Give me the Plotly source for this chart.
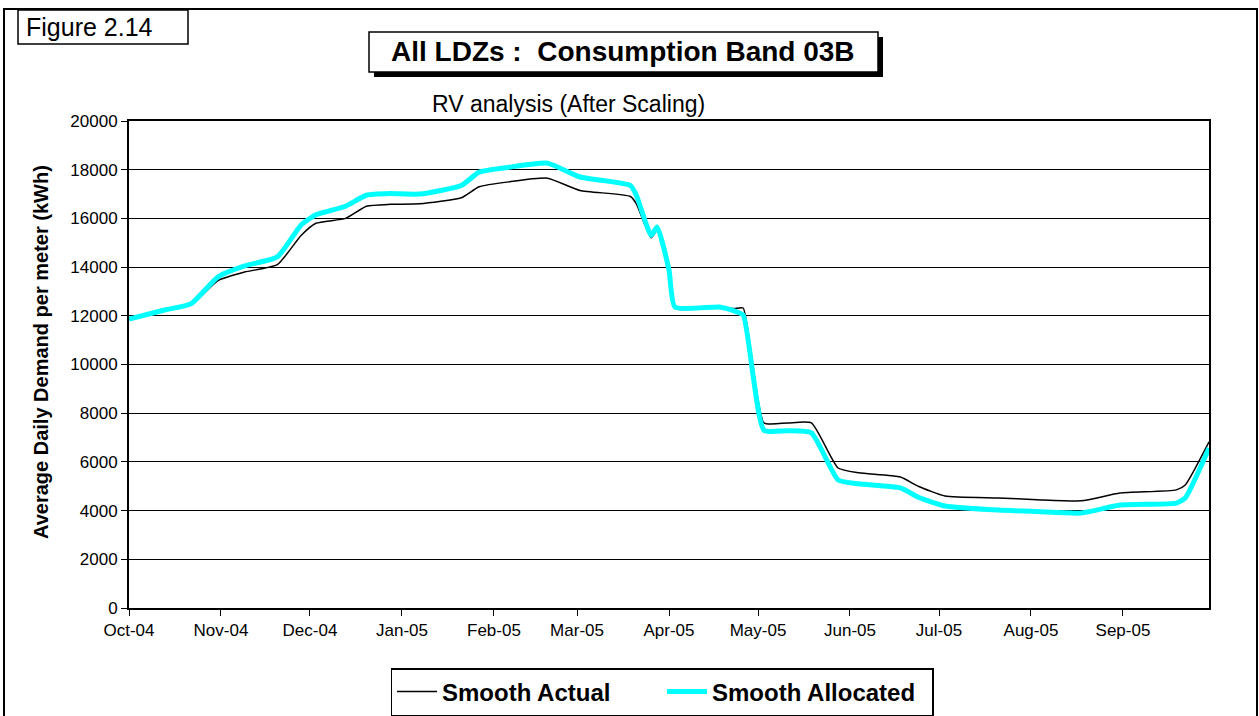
import plotly.graph_objects as go

# smoothed daily demand (kWh per meter)
dates = ['2004-10-01', '2004-10-13', '2004-10-22', '2004-10-31', '2004-11-09',
         '2004-11-20', '2004-11-28', '2004-12-03', '2004-12-13', '2004-12-20',
         '2004-12-28', '2005-01-07', '2005-01-21', '2005-01-27', '2005-02-06',
         '2005-02-19', '2005-03-02', '2005-03-19', '2005-03-21', '2005-03-26',
         '2005-03-28', '2005-04-01', '2005-04-03', '2005-04-18', '2005-04-23',
         '2005-04-26', '2005-05-03', '2005-05-11', '2005-05-19', '2005-05-28',
         '2005-06-04', '2005-06-18', '2005-06-24', '2005-07-03', '2005-07-21',
         '2005-08-03', '2005-08-18', '2005-08-31', '2005-09-19', '2005-09-22',
         '2005-09-30']
smooth_actual = [11850, 12200, 12450, 13450, 13800, 14100, 15300, 15800, 16000, 16500,
                 16580, 16600, 16850, 17300, 17500, 17650, 17150, 16900, 16600, 15200,
                 15500, 13900, 12300, 12350, 12300, 12320, 7600, 7600, 7600, 5750,
                 5550, 5380, 5000, 4600, 4520, 4450, 4400, 4720, 4850, 5050,
                 6820]
smooth_allocated = [11870, 12240, 12500, 13600, 14050, 14420, 15730, 16150, 16500, 16950,
                    17020, 17000, 17350, 17900, 18100, 18270, 17700, 17350, 16950, 15300,
                    15650, 13880, 12360, 12360, 12200, 12030, 7300, 7280, 7190, 5260,
                    5100, 4930, 4550, 4190, 4020, 3960, 3900, 4230, 4310, 4520,
                    6570]

month_ticks = ['2004-10-01', '2004-11-01', '2004-12-01', '2005-01-01', '2005-02-01',
               '2005-03-01', '2005-04-01', '2005-05-01', '2005-06-01', '2005-07-01',
               '2005-08-01', '2005-09-01']
month_labels = ['Oct-04', 'Nov-04', 'Dec-04', 'Jan-05', 'Feb-05', 'Mar-05',
                'Apr-05', 'May-05', 'Jun-05', 'Jul-05', 'Aug-05', 'Sep-05']

W, H = 1259, 716
L, R, T, B = 129, 1209, 121, 608
FONT = 'Arial, Liberation Sans, sans-serif'


def px(x):
    return (x - L) / (R - L)


def py(y):
    return (B - y) / (B - T)


fig = go.Figure()
fig.add_trace(go.Scatter(x=dates, y=smooth_actual, mode='lines', name='Smooth Actual',
                         line=dict(color='black', width=1.5, shape='spline', smoothing=0.5)))
fig.add_trace(go.Scatter(x=dates, y=smooth_allocated, mode='lines', name='Smooth Allocated',
                         line=dict(color='#00FFFF', width=5, shape='spline', smoothing=0.5)))

shapes = [
    # outer frame
    dict(type='rect', xref='paper', yref='paper', x0=px(4), x1=px(1257), y0=py(725), y1=py(9),
         line=dict(color='black', width=2)),
    # figure number box
    dict(type='rect', xref='paper', yref='paper', x0=px(18), x1=px(188), y0=py(44), y1=py(10),
         line=dict(color='black', width=1.5), fillcolor='white'),
    # title box shadow + box
    dict(type='rect', xref='paper', yref='paper', x0=px(374), x1=px(883), y0=py(77), y1=py(37),
         line=dict(width=0), fillcolor='black'),
    dict(type='rect', xref='paper', yref='paper', x0=px(369), x1=px(878), y0=py(72), y1=py(32),
         line=dict(color='black', width=1.5), fillcolor='white'),
]

annotations = [
    dict(text='Figure 2.14', xref='paper', yref='paper', x=px(24), y=py(27),
         xanchor='left', yanchor='middle', showarrow=False,
         font=dict(family=FONT, size=25, color='black')),
    dict(text='<b>All LDZs :  Consumption Band 03B</b>', xref='paper', yref='paper',
         x=px(623), y=py(52), xanchor='center', yanchor='middle', showarrow=False,
         font=dict(family=FONT, size=28, color='black')),
    dict(text='RV analysis (After Scaling)', xref='paper', yref='paper',
         x=px(568), y=py(104), xanchor='center', yanchor='middle', showarrow=False,
         font=dict(family=FONT, size=23, color='black')),
    dict(text='<b>Average Daily Demand per meter (kWh)</b>', xref='paper', yref='paper',
         x=px(41), y=py(352), xanchor='center', yanchor='middle', textangle=-90,
         showarrow=False, font=dict(family=FONT, size=20, color='black')),
]

fig.update_layout(
    width=W, height=H,
    margin=dict(l=L, r=W - R, t=T, b=H - B, autoexpand=False),
    paper_bgcolor='white', plot_bgcolor='white',
    font=dict(family=FONT, size=17, color='black'),
    shapes=shapes,
    annotations=annotations,
    showlegend=True,
    legend=dict(orientation='h', x=px(662), y=py(668), xanchor='center', yanchor='top',
                bordercolor='black', borderwidth=1.5, bgcolor='white',
                font=dict(family=FONT, size=24, color='black', weight='bold'),
                itemwidth=40, entrywidth=215, tracegroupgap=0),
)

fig.update_xaxes(
    type='date', range=['2004-10-01', '2005-09-30'],
    tickvals=month_ticks, ticktext=month_labels,
    ticks='outside', ticklen=6, tickcolor='black', tickwidth=1,
    showline=True, linecolor='black', linewidth=2, mirror=True,
    showgrid=False, zeroline=False,
    tickfont=dict(family=FONT, size=17, color='black'),
)
fig.update_yaxes(
    range=[0, 20000], dtick=2000, tickformat='d',
    ticks='outside', ticklen=6, tickcolor='black', tickwidth=1,
    showline=True, linecolor='black', linewidth=2, mirror=True,
    showgrid=True, gridcolor='black', gridwidth=1, zeroline=False,
    tickfont=dict(family=FONT, size=17, color='black'),
)

# the page would otherwise keep the browser's default 8px body margin
fig.write_html("out.html", config={'displayModeBar': False},
               post_script="document.body.style.margin='0px';")
